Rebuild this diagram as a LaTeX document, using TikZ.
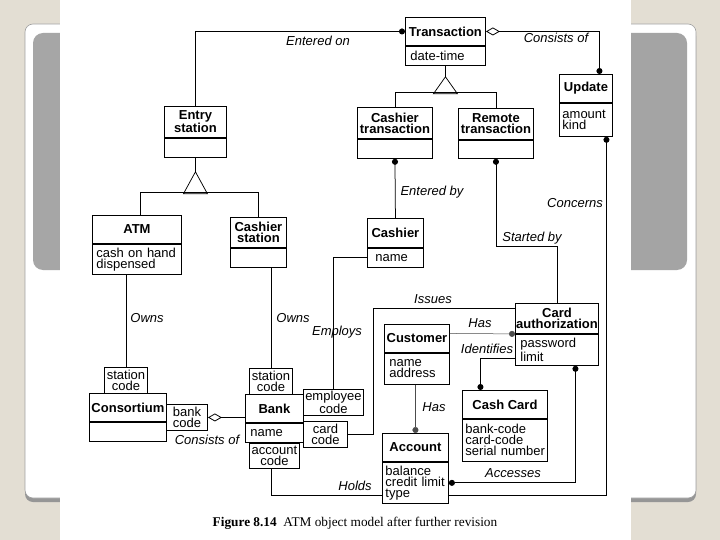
\documentclass[tikz,border=0pt]{standalone}
\usepackage{fontspec}
\setmainfont{Liberation Sans}
\newfontfamily\capfont{Liberation Serif}
\usetikzlibrary{arrows.meta,calc}
\definecolor{pagebg}{RGB}{227,222,211}
\definecolor{frameline}{RGB}{160,160,160}
\definecolor{shadowc}{RGB}{150,150,150}
\definecolor{greyL}{RGB}{166,166,166}
\definecolor{greyM}{RGB}{198,198,198}
\definecolor{greyR}{RGB}{164,164,164}
\begin{document}
\begin{tikzpicture}[x=1pt,y=-1pt,
  box/.style={draw, line width=0.9pt, inner sep=0pt, anchor=north west, fill=white},
  hdr/.style={box, font=\bfseries\fontsize{13}{11}\selectfont, align=center},
  att/.style={box, font=\fontsize{13}{11}\selectfont, align=left, inner xsep=5pt},
  qual/.style={box, font=\fontsize{13}{11}\selectfont, align=center},
  lbl/.style={font=\itshape\fontsize{13}{11}\selectfont, inner sep=0pt},
  conn/.style={line width=0.75pt},
  thinconn/.style={line width=0.5pt, black!70},
  dot/.tip={Circle[length=6pt]},
  agg/.tip={Diamond[open,length=14pt,width=8pt,line width=0.8pt]}
]
\useasboundingbox (0,0) rectangle (720,540);
% ---------- background ----------
\fill[pagebg] (0,0) rectangle (720,540);
\fill[shadowc, rounded corners=8] (25,28) rectangle (696,502);
\draw[frameline, fill=white, rounded corners=8, line width=0.6pt] (25,24) rectangle (696,498);
\shade[rounded corners=10, left color=greyL, middle color=greyM, right color=greyR] (33,33) rectangle (687,270);
\fill[white] (60,0) rectangle (631,540);

% ---------- classes ----------
\node[hdr, minimum width=80, minimum height=28] (trans) at (405,17) {Transaction};
\node[att, text width=70, minimum height=19] (trans-a) at (trans.south west) {date-time};

\node[hdr, minimum width=53, minimum height=28] (upd) at (559,74) {Update};
\node[att, text width=47, minimum height=33, inner xsep=3pt] (upd-a) at (upd.south west) {amount\\kind};

\node[hdr, minimum width=62, minimum height=31] (entry) at (164,106) {Entry\\station};
\node[att, text width=52, minimum height=19] (entry-a) at (entry.south west) {};

\node[hdr, minimum width=75, minimum height=31] (ctr) at (357,107) {Cashier\\transaction};
\node[att, text width=65, minimum height=19] (ctr-a) at (ctr.south west) {};

\node[hdr, minimum width=75, minimum height=31] (rtr) at (458,108) {Remote\\transaction};
\node[att, text width=65, minimum height=18] (rtr-a) at (rtr.south west) {};

\node[hdr, minimum width=89, minimum height=28] (atm) at (92,215) {ATM};
\node[att, text width=81, minimum height=30, inner xsep=4pt] (atm-a) at (atm.south west) {\mbox{cash on hand}\\dispensed};

\node[hdr, minimum width=56, minimum height=30] (cs) at (230,217) {Cashier\\station};
\node[att, text width=46, minimum height=19] (cs-a) at (cs.south west) {};

\node[hdr, minimum width=56, minimum height=29] (cas) at (367,218) {Cashier};
\node[att, text width=46, minimum height=19] (cas-a) at (cas.south west) {\hspace*{3pt}name};

\node[hdr, minimum width=83, minimum height=30] (ca) at (515,303) {Card\\authorization};
\node[att, text width=73, minimum height=31] (ca-a) at (ca.south west) {password\\limit};

\node[hdr, minimum width=65, minimum height=28] (cust) at (384,324) {Customer};
\node[att, text width=55, minimum height=31] (cust-a) at (cust.south west) {name\\address};

\node[hdr, minimum width=85, minimum height=28] (cc) at (462,390) {Cash Card};
\node[att, text width=79, minimum height=42, inner xsep=3pt] (cc-a) at (cc.south west) {bank-code\\card-code\\\mbox{serial number}};

\node[hdr, minimum width=66, minimum height=28] (acc) at (382,433) {Account};
\node[att, text width=60, minimum height=41, inner xsep=3pt] (acc-a) at (acc.south west) {balance\\\mbox{credit limit}\\type};

\node[hdr, minimum width=77, minimum height=28] (cons) at (89,393) {Consortium};
\node[att, text width=67, minimum height=19] (cons-a) at (cons.south west) {};

\node[hdr, minimum width=58, minimum height=28] (bank) at (245,394) {Bank};
\node[att, text width=48, minimum height=19] (bank-a) at (bank.south west) {name};

% ---------- qualifiers ----------
\node[qual, minimum width=43, minimum height=26] (csc) at (104,367) {station\\code};
\node[qual, minimum width=41, minimum height=26] (bcode) at (166,404) {bank\\code};
\node[qual, minimum width=43, minimum height=26] (bsc) at (249,368) {station\\code};
\node[qual, minimum width=60, minimum height=26] (emp) at (303,389) {employee\\code};
\node[qual, minimum width=44, minimum height=26] (ccode) at (303,421) {card\\code};
\node[qual, minimum width=50, minimum height=25] (acode) at (249,443) {account\\code};

% ---------- generalizations ----------
\coordinate (g1) at ($(trans-a.south)+(0,11)$);
\draw[conn] (trans-a.south) -- (g1);
\draw[conn] (g1) -- ++(-12,17) -- ++(24,0) -- cycle;
\draw[conn] (ctr.north) -- (ctr.north |- 0,92) -- (rtr.north |- 0,92) -- (rtr.north);

\coordinate (g2) at ($(entry-a.south)+(0,14)$);
\draw[conn] (entry-a.south) -- (g2);
\draw[conn] (g2) -- ++(-12,22) -- ++(24,0) -- cycle;
\coordinate (atmtop) at ($(atm.north)+(3.5,0)$);
\draw[conn] (atmtop) -- (atmtop |- 0,192) -- (cs.north |- 0,192) -- (cs.north);

% ---------- associations ----------
\draw[conn, -dot] (entry.north) |- (trans.west);
\draw[conn, agg-dot] (trans.east) -| ($(upd.north)+(13.5,0)$);
\draw[conn, dot-] (ctr-a.south) -- (cas.north);
\draw[conn, dot-] (rtr-a.south) -- (rtr-a.south |- 0,246) -| (ca.north);
\draw[conn, dot-] ($(upd-a.south)+(20.5,0)$) |- ($(acc-a.east)+(0,12.5)$);
\draw[conn] (csc.north |- atm-a.south) -- (csc.north);
\draw[conn] (bsc.north |- cs-a.south) -- (bsc.north);
\draw[conn] (cas-a.west) -| (emp.north);
\draw[conn] ($(ca.north west)+(0,5)$) -| ($(ccode.east)+(25,0)$) -- (ccode.east);
\draw[thinconn, -dot] ($(cust.east)+(0,-5)$) -- (ca.south west);
\draw[conn, -dot] ($(ca-a.west)+(0,8.5)$) -| ($(cc.north)+(-24.5,0)$);
\draw[thinconn, -dot] (acc.north |- cust-a.south) -- (acc.north);
\draw[conn, dot-dot] ($(ca-a.south)+(18.5,0)$) |- (acc-a.east);
\draw[conn] ($(acode.south)+(-3,0)$) |- ($(acc-a.west)+(0,12.5)$);
\draw[conn, agg-] (bcode.east) -- (bcode.east -| bank.west);

% ---------- labels ----------
\node[lbl] (l1) at (318,41) {Entered on};
\node[lbl] (l2) at (556,38) {Consists of};
\node[lbl] (l3) at (432,192) {Entered by};
\node[lbl] (l4) at (575,203) {Concerns};
\node[lbl] (l5) at (532,238) {Started by};
\node[lbl] (l6) at (147,318) {Owns};
\node[lbl] (l7) at (293,318) {Owns};
\node[lbl] (l8) at (337,332) {Employs};
\node[lbl] (l9) at (433,299) {Issues};
\node[lbl] (l10) at (480,323) {Has};
\node[lbl] (l11) at (487,349) {Identifies};
\node[lbl] (l12) at (434,407) {Has};
\node[lbl] (l13) at (513,473) {Accesses};
\node[lbl] (l14) at (355,486) {Holds};
\node[lbl] (l15) at (207,440) {Consists of};

% ---------- caption ----------
\node[font=\capfont\fontsize{13.3}{15}\selectfont, inner sep=0pt] (cap) at (355,523) {\textbf{Figure 8.14}\ \ ATM object model after further revision};
\end{tikzpicture}
\end{document}
